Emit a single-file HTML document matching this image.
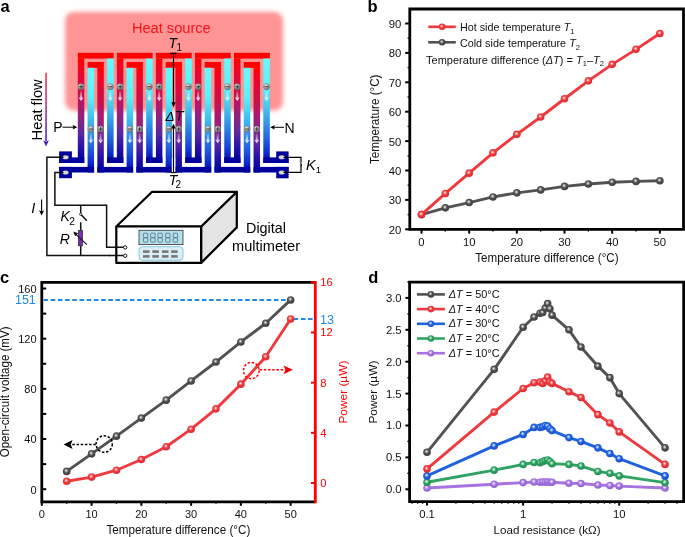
<!DOCTYPE html>
<html><head><meta charset="utf-8"><style>
html,body{margin:0;padding:0;background:#fff;overflow:hidden;}
svg{display:block;will-change:transform;}
text{font-family:"Liberation Sans", sans-serif;}
</style></head><body>
<svg width="685" height="537" viewBox="0 0 685 537">

<defs>
 <linearGradient id="gPo" gradientUnits="userSpaceOnUse" x1="0" y1="53" x2="0" y2="163"><stop offset="0" stop-color="#ff0000"/><stop offset="0.045" stop-color="#ff0000"/><stop offset="0.109" stop-color="#f60418"/><stop offset="0.245" stop-color="#dc0a3a"/><stop offset="0.355" stop-color="#c81048"/><stop offset="0.464" stop-color="#b0186a"/><stop offset="0.591" stop-color="#8c2480"/><stop offset="0.727" stop-color="#5c28a0"/><stop offset="0.845" stop-color="#2c14a8"/><stop offset="0.945" stop-color="#0c06a0"/><stop offset="1" stop-color="#00009c"/></linearGradient>
 <linearGradient id="gPi" gradientUnits="userSpaceOnUse" x1="0" y1="62" x2="0" y2="172.5"><stop offset="0" stop-color="#ff0000"/><stop offset="0.045" stop-color="#ff0000"/><stop offset="0.109" stop-color="#f60418"/><stop offset="0.245" stop-color="#dc0a3a"/><stop offset="0.355" stop-color="#c81048"/><stop offset="0.464" stop-color="#b0186a"/><stop offset="0.591" stop-color="#8c2480"/><stop offset="0.727" stop-color="#5c28a0"/><stop offset="0.845" stop-color="#2c14a8"/><stop offset="0.945" stop-color="#0c06a0"/><stop offset="1" stop-color="#00009c"/></linearGradient>
 <linearGradient id="gNo" gradientUnits="userSpaceOnUse" x1="0" y1="53" x2="0" y2="163"><stop offset="0" stop-color="#66ffff"/><stop offset="0.32" stop-color="#5af0fa"/><stop offset="0.5" stop-color="#44c4ee"/><stop offset="0.64" stop-color="#3494e6"/><stop offset="0.78" stop-color="#2262de"/><stop offset="0.9" stop-color="#0e30d0"/><stop offset="1" stop-color="#0000a8"/></linearGradient>
 <linearGradient id="gNi" gradientUnits="userSpaceOnUse" x1="0" y1="62" x2="0" y2="172.5"><stop offset="0" stop-color="#66ffff"/><stop offset="0.32" stop-color="#5af0fa"/><stop offset="0.5" stop-color="#44c4ee"/><stop offset="0.64" stop-color="#3494e6"/><stop offset="0.78" stop-color="#2262de"/><stop offset="0.9" stop-color="#0e30d0"/><stop offset="1" stop-color="#0000a8"/></linearGradient>
 <filter id="blur2" x="-10%" y="-10%" width="120%" height="120%"><feGaussianBlur stdDeviation="2"/></filter>
 
 
 <linearGradient id="gFlow" x1="0" y1="0" x2="0" y2="1">
  <stop offset="0" stop-color="#f02848"/>
  <stop offset="0.5" stop-color="#a02890"/>
  <stop offset="1" stop-color="#4018b8"/>
 </linearGradient>
 <linearGradient id="gArrow" x1="0" y1="0" x2="0" y2="1">
  <stop offset="0" stop-color="#ffffff" stop-opacity="0.15"/>
  <stop offset="1" stop-color="#ffffff" stop-opacity="0.95"/>
 </linearGradient>
 <radialGradient id="gPM" cx="0.4" cy="0.35" r="0.65">
  <stop offset="0" stop-color="#f4f4f4"/>
  <stop offset="0.55" stop-color="#a8a8a8"/>
  <stop offset="1" stop-color="#6a6a6a"/>
 </radialGradient>
<radialGradient id="m_grey" cx="0.44" cy="0.4" r="0.62"><stop offset="0" stop-color="#fff6f6"/><stop offset="0.16" stop-color="#b8b8b8"/><stop offset="0.46" stop-color="#525252"/><stop offset="1" stop-color="#3a3a3a"/></radialGradient><radialGradient id="m_red" cx="0.44" cy="0.4" r="0.62"><stop offset="0" stop-color="#fff6f6"/><stop offset="0.16" stop-color="#ffa8a8"/><stop offset="0.46" stop-color="#ee3a3f"/><stop offset="1" stop-color="#d82a30"/></radialGradient><radialGradient id="m_blue" cx="0.44" cy="0.4" r="0.62"><stop offset="0" stop-color="#fff6f6"/><stop offset="0.16" stop-color="#a8c4ff"/><stop offset="0.46" stop-color="#1f62e0"/><stop offset="1" stop-color="#1850c8"/></radialGradient><radialGradient id="m_green" cx="0.44" cy="0.4" r="0.62"><stop offset="0" stop-color="#fff6f6"/><stop offset="0.16" stop-color="#a8e0c0"/><stop offset="0.46" stop-color="#2fa462"/><stop offset="1" stop-color="#228a50"/></radialGradient><radialGradient id="m_purple" cx="0.44" cy="0.4" r="0.62"><stop offset="0" stop-color="#fff6f6"/><stop offset="0.16" stop-color="#dcc8ff"/><stop offset="0.46" stop-color="#a673e0"/><stop offset="1" stop-color="#9060d0"/></radialGradient></defs>

<rect width="685" height="537" fill="#fff"/>
<rect x="65" y="11.7" width="218" height="99" rx="9" fill="#ff9494" filter="url(#blur2)"/>
<text x="131.9" y="32.8" font-size="14" fill="#f5121a" textLength="78.8" lengthAdjust="spacingAndGlyphs">Heat source</text>
<rect x="77.8" y="52.8" width="35.8" height="5.8" fill="#ff0000"/>
<rect x="87.57" y="62" width="16.26" height="5.9" fill="#ff0000"/>
<rect x="77.8" y="58.5" width="6.5" height="104.5" fill="url(#gPo)"/>
<rect x="107.1" y="58.5" width="6.5" height="104.5" fill="url(#gNo)"/>
<rect x="87.57" y="67.8" width="6.5" height="104.7" fill="url(#gNi)"/>
<rect x="97.33" y="67.8" width="6.5" height="104.7" fill="url(#gPi)"/>
<rect x="116.85" y="52.8" width="35.8" height="5.8" fill="#ff0000"/>
<rect x="126.62" y="62" width="16.26" height="5.9" fill="#ff0000"/>
<rect x="116.85" y="58.5" width="6.5" height="104.5" fill="url(#gPo)"/>
<rect x="146.15" y="58.5" width="6.5" height="104.5" fill="url(#gNo)"/>
<rect x="126.62" y="67.8" width="6.5" height="104.7" fill="url(#gNi)"/>
<rect x="136.38" y="67.8" width="6.5" height="104.7" fill="url(#gPi)"/>
<rect x="155.9" y="52.8" width="35.8" height="5.8" fill="#ff0000"/>
<rect x="165.67" y="62" width="16.26" height="5.9" fill="#ff0000"/>
<rect x="155.9" y="58.5" width="6.5" height="104.5" fill="url(#gPo)"/>
<rect x="185.2" y="58.5" width="6.5" height="104.5" fill="url(#gNo)"/>
<rect x="165.67" y="67.8" width="6.5" height="104.7" fill="url(#gNi)"/>
<rect x="175.43" y="67.8" width="6.5" height="104.7" fill="url(#gPi)"/>
<rect x="194.95" y="52.8" width="35.8" height="5.8" fill="#ff0000"/>
<rect x="204.72" y="62" width="16.26" height="5.9" fill="#ff0000"/>
<rect x="194.95" y="58.5" width="6.5" height="104.5" fill="url(#gPo)"/>
<rect x="224.25" y="58.5" width="6.5" height="104.5" fill="url(#gNo)"/>
<rect x="204.72" y="67.8" width="6.5" height="104.7" fill="url(#gNi)"/>
<rect x="214.48" y="67.8" width="6.5" height="104.7" fill="url(#gPi)"/>
<rect x="234" y="52.8" width="35.8" height="5.8" fill="#ff0000"/>
<rect x="243.77" y="62" width="16.26" height="5.9" fill="#ff0000"/>
<rect x="234" y="58.5" width="6.5" height="104.5" fill="url(#gPo)"/>
<rect x="263.3" y="58.5" width="6.5" height="104.5" fill="url(#gNo)"/>
<rect x="243.77" y="67.8" width="6.5" height="104.7" fill="url(#gNi)"/>
<rect x="253.53" y="67.8" width="6.5" height="104.7" fill="url(#gPi)"/>
<rect x="107.1" y="157.4" width="16.25" height="5.6" fill="#00009c"/>
<rect x="97.33" y="166.9" width="35.79" height="5.6" fill="#00009c"/>
<rect x="146.15" y="157.4" width="16.25" height="5.6" fill="#00009c"/>
<rect x="136.38" y="166.9" width="35.79" height="5.6" fill="#00009c"/>
<rect x="185.2" y="157.4" width="16.25" height="5.6" fill="#00009c"/>
<rect x="175.43" y="166.9" width="35.79" height="5.6" fill="#00009c"/>
<rect x="224.25" y="157.4" width="16.25" height="5.6" fill="#00009c"/>
<rect x="214.48" y="166.9" width="35.79" height="5.6" fill="#00009c"/>
<rect x="59.1" y="151.4" width="12.8" height="11.6" fill="#00009c"/>
<rect x="59.1" y="157.4" width="25.2" height="5.6" fill="#00009c"/>
<rect x="59.1" y="166.9" width="12.8" height="11.3" fill="#00009c"/>
<rect x="59.1" y="166.9" width="34.97" height="5.6" fill="#00009c"/>
<rect x="276.2" y="151.4" width="12.4" height="11.6" fill="#00009c"/>
<rect x="263.3" y="157.4" width="25.3" height="5.6" fill="#00009c"/>
<rect x="276.2" y="166.9" width="12.4" height="11.4" fill="#00009c"/>
<rect x="253.53" y="166.9" width="35.07" height="5.6" fill="#00009c"/>
<ellipse cx="65.5" cy="157.3" rx="3.1" ry="2" fill="#d8d8d0"/>
<ellipse cx="65.5" cy="172.4" rx="3.1" ry="2" fill="#d8d8d0"/>
<ellipse cx="281.8" cy="157.3" rx="3.1" ry="2" fill="#d8d8d0"/>
<ellipse cx="281.8" cy="172.4" rx="3.1" ry="2" fill="#d8d8d0"/>
<circle cx="81.05" cy="86.7" r="3.1" fill="url(#gPM)" stroke="#777" stroke-width="0.4"/>
<line x1="79.05" y1="86.7" x2="83.05" y2="86.7" stroke="#222" stroke-width="0.85"/>
<line x1="81.05" y1="84.7" x2="81.05" y2="88.7" stroke="#222" stroke-width="0.85"/>
<path d="M80.05 91.2 h2 v6.2 h1.5 l-2.5 3.6 l-2.5 -3.6 h1.5 z" fill="url(#gArrow)"/>
<circle cx="110.35" cy="86.7" r="3.1" fill="url(#gPM)" stroke="#777" stroke-width="0.4"/>
<line x1="108.35" y1="86.7" x2="112.35" y2="86.7" stroke="#222" stroke-width="0.85"/>
<path d="M109.35 91.2 h2 v6.2 h1.5 l-2.5 3.6 l-2.5 -3.6 h1.5 z" fill="url(#gArrow)"/>
<circle cx="90.82" cy="129" r="3.1" fill="url(#gPM)" stroke="#777" stroke-width="0.4"/>
<line x1="88.82" y1="129" x2="92.82" y2="129" stroke="#222" stroke-width="0.85"/>
<path d="M89.82 133.5 h2 v6.2 h1.5 l-2.5 3.6 l-2.5 -3.6 h1.5 z" fill="url(#gArrow)"/>
<circle cx="100.58" cy="129" r="3.1" fill="url(#gPM)" stroke="#777" stroke-width="0.4"/>
<line x1="98.58" y1="129" x2="102.58" y2="129" stroke="#222" stroke-width="0.85"/>
<line x1="100.58" y1="127" x2="100.58" y2="131" stroke="#222" stroke-width="0.85"/>
<path d="M99.58 133.5 h2 v6.2 h1.5 l-2.5 3.6 l-2.5 -3.6 h1.5 z" fill="url(#gArrow)"/>
<circle cx="120.1" cy="86.7" r="3.1" fill="url(#gPM)" stroke="#777" stroke-width="0.4"/>
<line x1="118.1" y1="86.7" x2="122.1" y2="86.7" stroke="#222" stroke-width="0.85"/>
<line x1="120.1" y1="84.7" x2="120.1" y2="88.7" stroke="#222" stroke-width="0.85"/>
<path d="M119.1 91.2 h2 v6.2 h1.5 l-2.5 3.6 l-2.5 -3.6 h1.5 z" fill="url(#gArrow)"/>
<circle cx="149.4" cy="86.7" r="3.1" fill="url(#gPM)" stroke="#777" stroke-width="0.4"/>
<line x1="147.4" y1="86.7" x2="151.4" y2="86.7" stroke="#222" stroke-width="0.85"/>
<path d="M148.4 91.2 h2 v6.2 h1.5 l-2.5 3.6 l-2.5 -3.6 h1.5 z" fill="url(#gArrow)"/>
<circle cx="129.87" cy="129" r="3.1" fill="url(#gPM)" stroke="#777" stroke-width="0.4"/>
<line x1="127.87" y1="129" x2="131.87" y2="129" stroke="#222" stroke-width="0.85"/>
<path d="M128.87 133.5 h2 v6.2 h1.5 l-2.5 3.6 l-2.5 -3.6 h1.5 z" fill="url(#gArrow)"/>
<circle cx="139.63" cy="129" r="3.1" fill="url(#gPM)" stroke="#777" stroke-width="0.4"/>
<line x1="137.63" y1="129" x2="141.63" y2="129" stroke="#222" stroke-width="0.85"/>
<line x1="139.63" y1="127" x2="139.63" y2="131" stroke="#222" stroke-width="0.85"/>
<path d="M138.63 133.5 h2 v6.2 h1.5 l-2.5 3.6 l-2.5 -3.6 h1.5 z" fill="url(#gArrow)"/>
<circle cx="159.15" cy="86.7" r="3.1" fill="url(#gPM)" stroke="#777" stroke-width="0.4"/>
<line x1="157.15" y1="86.7" x2="161.15" y2="86.7" stroke="#222" stroke-width="0.85"/>
<line x1="159.15" y1="84.7" x2="159.15" y2="88.7" stroke="#222" stroke-width="0.85"/>
<path d="M158.15 91.2 h2 v6.2 h1.5 l-2.5 3.6 l-2.5 -3.6 h1.5 z" fill="url(#gArrow)"/>
<circle cx="188.45" cy="86.7" r="3.1" fill="url(#gPM)" stroke="#777" stroke-width="0.4"/>
<line x1="186.45" y1="86.7" x2="190.45" y2="86.7" stroke="#222" stroke-width="0.85"/>
<path d="M187.45 91.2 h2 v6.2 h1.5 l-2.5 3.6 l-2.5 -3.6 h1.5 z" fill="url(#gArrow)"/>
<circle cx="168.92" cy="129" r="3.1" fill="url(#gPM)" stroke="#777" stroke-width="0.4"/>
<line x1="166.92" y1="129" x2="170.92" y2="129" stroke="#222" stroke-width="0.85"/>
<path d="M167.92 133.5 h2 v6.2 h1.5 l-2.5 3.6 l-2.5 -3.6 h1.5 z" fill="url(#gArrow)"/>
<circle cx="178.68" cy="129" r="3.1" fill="url(#gPM)" stroke="#777" stroke-width="0.4"/>
<line x1="176.68" y1="129" x2="180.68" y2="129" stroke="#222" stroke-width="0.85"/>
<line x1="178.68" y1="127" x2="178.68" y2="131" stroke="#222" stroke-width="0.85"/>
<path d="M177.68 133.5 h2 v6.2 h1.5 l-2.5 3.6 l-2.5 -3.6 h1.5 z" fill="url(#gArrow)"/>
<circle cx="198.2" cy="86.7" r="3.1" fill="url(#gPM)" stroke="#777" stroke-width="0.4"/>
<line x1="196.2" y1="86.7" x2="200.2" y2="86.7" stroke="#222" stroke-width="0.85"/>
<line x1="198.2" y1="84.7" x2="198.2" y2="88.7" stroke="#222" stroke-width="0.85"/>
<path d="M197.2 91.2 h2 v6.2 h1.5 l-2.5 3.6 l-2.5 -3.6 h1.5 z" fill="url(#gArrow)"/>
<circle cx="227.5" cy="86.7" r="3.1" fill="url(#gPM)" stroke="#777" stroke-width="0.4"/>
<line x1="225.5" y1="86.7" x2="229.5" y2="86.7" stroke="#222" stroke-width="0.85"/>
<path d="M226.5 91.2 h2 v6.2 h1.5 l-2.5 3.6 l-2.5 -3.6 h1.5 z" fill="url(#gArrow)"/>
<circle cx="207.97" cy="129" r="3.1" fill="url(#gPM)" stroke="#777" stroke-width="0.4"/>
<line x1="205.97" y1="129" x2="209.97" y2="129" stroke="#222" stroke-width="0.85"/>
<path d="M206.97 133.5 h2 v6.2 h1.5 l-2.5 3.6 l-2.5 -3.6 h1.5 z" fill="url(#gArrow)"/>
<circle cx="217.73" cy="129" r="3.1" fill="url(#gPM)" stroke="#777" stroke-width="0.4"/>
<line x1="215.73" y1="129" x2="219.73" y2="129" stroke="#222" stroke-width="0.85"/>
<line x1="217.73" y1="127" x2="217.73" y2="131" stroke="#222" stroke-width="0.85"/>
<path d="M216.73 133.5 h2 v6.2 h1.5 l-2.5 3.6 l-2.5 -3.6 h1.5 z" fill="url(#gArrow)"/>
<circle cx="237.25" cy="86.7" r="3.1" fill="url(#gPM)" stroke="#777" stroke-width="0.4"/>
<line x1="235.25" y1="86.7" x2="239.25" y2="86.7" stroke="#222" stroke-width="0.85"/>
<line x1="237.25" y1="84.7" x2="237.25" y2="88.7" stroke="#222" stroke-width="0.85"/>
<path d="M236.25 91.2 h2 v6.2 h1.5 l-2.5 3.6 l-2.5 -3.6 h1.5 z" fill="url(#gArrow)"/>
<circle cx="266.55" cy="86.7" r="3.1" fill="url(#gPM)" stroke="#777" stroke-width="0.4"/>
<line x1="264.55" y1="86.7" x2="268.55" y2="86.7" stroke="#222" stroke-width="0.85"/>
<path d="M265.55 91.2 h2 v6.2 h1.5 l-2.5 3.6 l-2.5 -3.6 h1.5 z" fill="url(#gArrow)"/>
<circle cx="247.02" cy="129" r="3.1" fill="url(#gPM)" stroke="#777" stroke-width="0.4"/>
<line x1="245.02" y1="129" x2="249.02" y2="129" stroke="#222" stroke-width="0.85"/>
<path d="M246.02 133.5 h2 v6.2 h1.5 l-2.5 3.6 l-2.5 -3.6 h1.5 z" fill="url(#gArrow)"/>
<circle cx="256.78" cy="129" r="3.1" fill="url(#gPM)" stroke="#777" stroke-width="0.4"/>
<line x1="254.78" y1="129" x2="258.78" y2="129" stroke="#222" stroke-width="0.85"/>
<line x1="256.78" y1="127" x2="256.78" y2="131" stroke="#222" stroke-width="0.85"/>
<path d="M255.78 133.5 h2 v6.2 h1.5 l-2.5 3.6 l-2.5 -3.6 h1.5 z" fill="url(#gArrow)"/>
<line x1="173.5" y1="158" x2="173.5" y2="172.5" stroke="#fff" stroke-width="3.4"/>
<line x1="173.5" y1="53" x2="173.5" y2="104" stroke="#000" stroke-width="1.2"/>
<path d="M171.4 102.2 L173.5 107.2 L175.6 102.2 Z" fill="#000"/>
<line x1="173.5" y1="127" x2="173.5" y2="172.6" stroke="#000" stroke-width="1.2"/>
<path d="M171.4 128.5 L173.5 123.5 L175.6 128.5 Z" fill="#000"/>
<line x1="169.8" y1="53.3" x2="177.3" y2="53.3" stroke="#000" stroke-width="1.2"/>
<line x1="170.9" y1="172.6" x2="176.5" y2="172.6" stroke="#000" stroke-width="1.1"/>
<text x="168.6" y="48.2" font-size="14" font-style="italic" fill="#000">T</text>
<text x="176.6" y="51.2" font-size="10" fill="#000">1</text>
<text x="165.6" y="120.5" font-size="13.5" font-style="italic" fill="#000">&#916;</text>
<text x="175" y="120.5" font-size="14" font-style="italic" fill="#000">T</text>
<text x="168.8" y="184.6" font-size="14" font-style="italic" fill="#000">T</text>
<text x="175.6" y="187.7" font-size="10" fill="#000">2</text>
<rect x="45.3" y="72.7" width="1.5" height="68.5" fill="url(#gFlow)"/>
<path d="M43.2 140.2 L46.05 146.6 L48.9 140.2 L46.05 141.8 Z" fill="#4018b8"/>
<text transform="translate(42.4 140.4) rotate(-90)" font-size="14.5" fill="#000" textLength="61" lengthAdjust="spacingAndGlyphs">Heat flow</text>
<text x="53.3" y="131.7" font-size="14" fill="#000">P</text>
<line x1="62.5" y1="127.2" x2="75" y2="127.2" stroke="#000" stroke-width="1"/>
<path d="M72.5 124.8 L77.3 127.2 L72.5 129.6 L73.6 127.2 Z" fill="#000"/>
<text x="284.6" y="132.7" font-size="14" fill="#000">N</text>
<line x1="272.5" y1="127.3" x2="284" y2="127.3" stroke="#000" stroke-width="1"/>
<path d="M275 124.9 L270.2 127.3 L275 129.7 L273.9 127.3 Z" fill="#000"/>
<path d="M283.5 157.3 H301 V160.9" fill="none" stroke="#000" stroke-width="1.2"/>
<path d="M283.5 172.4 H301 V164" fill="none" stroke="#000" stroke-width="1.2"/>
<circle cx="300.9" cy="161.7" r="0.85" fill="#fff" stroke="#000" stroke-width="0.6"/>
<path d="M300.6 162.4 L301.7 166.2" stroke="#000" stroke-width="0.9"/>
<text x="306" y="170" font-size="14.5" font-style="italic" fill="#000">K</text>
<text x="315.8" y="173.2" font-size="9.6" fill="#000">1</text>
<path d="M63.5 157.3 H46.9 V255.6 H110" stroke="#111" stroke-width="1.5" fill="none"/>
<path d="M63.5 172.4 H54.9 V205.3 H106.6 V247.3 H110" stroke="#111" stroke-width="1.5" fill="none"/>
<path d="M80.7 205.3 V213.1" stroke="#111" stroke-width="1.5" fill="none"/>
<circle cx="80.7" cy="214.3" r="1.15" fill="#fff" stroke="#111" stroke-width="0.8"/>
<path d="M81.4 214.9 L86.8 220.7" stroke="#111" stroke-width="1.5" fill="none"/>
<path d="M80.7 222.3 V230.4 M80.7 245.8 V255.6" stroke="#111" stroke-width="1.5" fill="none"/>
<rect x="78.5" y="230.4" width="4" height="15.4" fill="#7b2fb5" stroke="#222" stroke-width="0.7"/>
<path d="M86.8 244.7 L75.2 233.6" stroke="#111" stroke-width="1.1"/>
<path d="M73.3 231.6 L78.2 233.2 L75.1 236.2 Z" fill="#111"/>
<text x="31.2" y="212.8" font-size="14.5" font-style="italic" fill="#000">I</text>
<line x1="41.6" y1="199.5" x2="41.6" y2="212" stroke="#000" stroke-width="1.1"/>
<path d="M39 210.3 L41.6 215.6 L44.2 210.3 L41.6 211.6 Z" fill="#000"/>
<text x="60.4" y="221.2" font-size="14" font-style="italic" fill="#000">K</text>
<text x="69.2" y="224.7" font-size="10.2" fill="#000">2</text>
<text x="59.8" y="243.5" font-size="14" font-style="italic" fill="#000">R</text>
<path d="M201.1 226.5 L236.8 191.8 L236.8 227.4 L201.1 262.9 Z" fill="#e4e4e4" stroke="#000" stroke-width="2.2" stroke-linejoin="round"/>
<path d="M116.3 226.5 L152.1 191.8 L236.8 191.8 L201.1 226.5 Z" fill="#fff" stroke="#000" stroke-width="2.2" stroke-linejoin="round"/>
<rect x="116.3" y="226.5" width="84.8" height="36.4" fill="#fff" stroke="#000" stroke-width="2.2" stroke-linejoin="round"/>
<rect x="139" y="230.3" width="44" height="14.3" fill="#b4e0ee" stroke="#333" stroke-width="0.8"/>
<rect x="143.4" y="233.2" width="4.4" height="4.5" rx="0.8" fill="none" stroke="#4f6f76" stroke-width="0.8"/>
<rect x="143.4" y="237.7" width="4.4" height="4.5" rx="0.8" fill="none" stroke="#4f6f76" stroke-width="0.8"/>
<rect x="150.7" y="233.2" width="4.4" height="4.5" rx="0.8" fill="none" stroke="#4f6f76" stroke-width="0.8"/>
<rect x="150.7" y="237.7" width="4.4" height="4.5" rx="0.8" fill="none" stroke="#4f6f76" stroke-width="0.8"/>
<rect x="157.9" y="233.2" width="4.4" height="4.5" rx="0.8" fill="none" stroke="#4f6f76" stroke-width="0.8"/>
<rect x="157.9" y="237.7" width="4.4" height="4.5" rx="0.8" fill="none" stroke="#4f6f76" stroke-width="0.8"/>
<rect x="165.6" y="233.2" width="4.4" height="4.5" rx="0.8" fill="none" stroke="#4f6f76" stroke-width="0.8"/>
<rect x="165.6" y="237.7" width="4.4" height="4.5" rx="0.8" fill="none" stroke="#4f6f76" stroke-width="0.8"/>
<rect x="173.2" y="233.2" width="4.4" height="4.5" rx="0.8" fill="none" stroke="#4f6f76" stroke-width="0.8"/>
<rect x="173.2" y="237.7" width="4.4" height="4.5" rx="0.8" fill="none" stroke="#4f6f76" stroke-width="0.8"/>
<rect x="139" y="246.7" width="44" height="13.6" rx="3.2" fill="#dceef5" stroke="#6cbcd8" stroke-width="0.8"/>
<rect x="143" y="250.3" width="6.6" height="2.6" fill="#777"/>
<rect x="152.3" y="250.3" width="6.6" height="2.6" fill="#777"/>
<rect x="161.9" y="250.3" width="6.6" height="2.6" fill="#777"/>
<rect x="171.1" y="250.3" width="6.6" height="2.6" fill="#777"/>
<rect x="143" y="255.1" width="6.6" height="2.6" fill="#777"/>
<rect x="152.3" y="255.1" width="6.6" height="2.6" fill="#777"/>
<rect x="161.9" y="255.1" width="6.6" height="2.6" fill="#777"/>
<rect x="171.1" y="255.1" width="6.6" height="2.6" fill="#777"/>
<path d="M109 255.6 H123.6 M109 247.3 H123.6" stroke="#111" stroke-width="1.5" fill="none"/>
<circle cx="125.2" cy="247.4" r="1.7" fill="#fff" stroke="#111" stroke-width="1"/>
<circle cx="125.2" cy="255.8" r="1.7" fill="#fff" stroke="#111" stroke-width="1"/>
<text x="246" y="233" font-size="14.3" fill="#000" textLength="40" lengthAdjust="spacingAndGlyphs">Digital</text>
<text x="232" y="250.5" font-size="14.3" fill="#000" textLength="68" lengthAdjust="spacingAndGlyphs">multimeter</text>
<text x="0.4" y="11.6" font-size="16.5" font-weight="bold" fill="#000">a</text>
<text x="367.4" y="11.6" font-size="16.5" font-weight="bold" fill="#000">b</text>
<path d="M409.8 9 H683.5 V229.3 H409.8 Z" fill="none" stroke="#000" stroke-width="2.8"/>
<line x1="405.2" y1="229.3" x2="410" y2="229.3" stroke="#000" stroke-width="2"/>
<text x="401.4" y="233.8" font-size="11.3" text-anchor="end" fill="#111">20</text>
<line x1="405.2" y1="199.9" x2="410" y2="199.9" stroke="#000" stroke-width="2"/>
<text x="401.4" y="204.4" font-size="11.3" text-anchor="end" fill="#111">30</text>
<line x1="405.2" y1="170.5" x2="410" y2="170.5" stroke="#000" stroke-width="2"/>
<text x="401.4" y="175" font-size="11.3" text-anchor="end" fill="#111">40</text>
<line x1="405.2" y1="141.1" x2="410" y2="141.1" stroke="#000" stroke-width="2"/>
<text x="401.4" y="145.6" font-size="11.3" text-anchor="end" fill="#111">50</text>
<line x1="405.2" y1="111.7" x2="410" y2="111.7" stroke="#000" stroke-width="2"/>
<text x="401.4" y="116.2" font-size="11.3" text-anchor="end" fill="#111">60</text>
<line x1="405.2" y1="82.3" x2="410" y2="82.3" stroke="#000" stroke-width="2"/>
<text x="401.4" y="86.8" font-size="11.3" text-anchor="end" fill="#111">70</text>
<line x1="405.2" y1="52.9" x2="410" y2="52.9" stroke="#000" stroke-width="2"/>
<text x="401.4" y="57.4" font-size="11.3" text-anchor="end" fill="#111">80</text>
<line x1="405.2" y1="23.5" x2="410" y2="23.5" stroke="#000" stroke-width="2"/>
<text x="401.4" y="28" font-size="11.3" text-anchor="end" fill="#111">90</text>
<line x1="407.6" y1="214.6" x2="410" y2="214.6" stroke="#000" stroke-width="1.4"/>
<line x1="407.6" y1="185.2" x2="410" y2="185.2" stroke="#000" stroke-width="1.4"/>
<line x1="407.6" y1="155.8" x2="410" y2="155.8" stroke="#000" stroke-width="1.4"/>
<line x1="407.6" y1="126.4" x2="410" y2="126.4" stroke="#000" stroke-width="1.4"/>
<line x1="407.6" y1="97" x2="410" y2="97" stroke="#000" stroke-width="1.4"/>
<line x1="407.6" y1="67.6" x2="410" y2="67.6" stroke="#000" stroke-width="1.4"/>
<line x1="407.6" y1="38.2" x2="410" y2="38.2" stroke="#000" stroke-width="1.4"/>
<line x1="421.5" y1="229.3" x2="421.5" y2="233.6" stroke="#000" stroke-width="2"/>
<text x="421.5" y="246" font-size="11.3" text-anchor="middle" fill="#111">0</text>
<line x1="469.17" y1="229.3" x2="469.17" y2="233.6" stroke="#000" stroke-width="2"/>
<text x="469.17" y="246" font-size="11.3" text-anchor="middle" fill="#111">10</text>
<line x1="516.84" y1="229.3" x2="516.84" y2="233.6" stroke="#000" stroke-width="2"/>
<text x="516.84" y="246" font-size="11.3" text-anchor="middle" fill="#111">20</text>
<line x1="564.51" y1="229.3" x2="564.51" y2="233.6" stroke="#000" stroke-width="2"/>
<text x="564.51" y="246" font-size="11.3" text-anchor="middle" fill="#111">30</text>
<line x1="612.18" y1="229.3" x2="612.18" y2="233.6" stroke="#000" stroke-width="2"/>
<text x="612.18" y="246" font-size="11.3" text-anchor="middle" fill="#111">40</text>
<line x1="659.85" y1="229.3" x2="659.85" y2="233.6" stroke="#000" stroke-width="2"/>
<text x="659.85" y="246" font-size="11.3" text-anchor="middle" fill="#111">50</text>
<line x1="445.33" y1="229.3" x2="445.33" y2="231.6" stroke="#000" stroke-width="1.4"/>
<line x1="493" y1="229.3" x2="493" y2="231.6" stroke="#000" stroke-width="1.4"/>
<line x1="540.67" y1="229.3" x2="540.67" y2="231.6" stroke="#000" stroke-width="1.4"/>
<line x1="588.35" y1="229.3" x2="588.35" y2="231.6" stroke="#000" stroke-width="1.4"/>
<line x1="636.01" y1="229.3" x2="636.01" y2="231.6" stroke="#000" stroke-width="1.4"/>
<text transform="translate(379.4 164) rotate(-90)" font-size="12" fill="#111" textLength="89.5" lengthAdjust="spacingAndGlyphs">Temperature (°C)</text>
<text x="475.2" y="262.4" font-size="12" fill="#111" textLength="143.4" lengthAdjust="spacingAndGlyphs">Temperature difference (°C)</text>
<path d="M421.5 214.6 L445.33 207.84 L469.17 202.55 L493 196.96 L516.84 192.84 L540.67 189.9 L564.51 186.38 L588.35 184.02 L612.18 182.26 L636.01 181.38 L659.85 180.79" fill="none" stroke="#525252" stroke-width="2.9" stroke-linejoin="round"/>
<circle cx="421.5" cy="214.6" r="3.8" fill="url(#m_grey)"/>
<circle cx="445.33" cy="207.84" r="3.8" fill="url(#m_grey)"/>
<circle cx="469.17" cy="202.55" r="3.8" fill="url(#m_grey)"/>
<circle cx="493" cy="196.96" r="3.8" fill="url(#m_grey)"/>
<circle cx="516.84" cy="192.84" r="3.8" fill="url(#m_grey)"/>
<circle cx="540.67" cy="189.9" r="3.8" fill="url(#m_grey)"/>
<circle cx="564.51" cy="186.38" r="3.8" fill="url(#m_grey)"/>
<circle cx="588.35" cy="184.02" r="3.8" fill="url(#m_grey)"/>
<circle cx="612.18" cy="182.26" r="3.8" fill="url(#m_grey)"/>
<circle cx="636.01" cy="181.38" r="3.8" fill="url(#m_grey)"/>
<circle cx="659.85" cy="180.79" r="3.8" fill="url(#m_grey)"/>
<path d="M421.5 214.6 L445.33 193.43 L469.17 173.15 L493 152.86 L516.84 134.34 L540.67 116.99 L564.51 98.76 L588.35 80.83 L612.18 64.37 L636.01 49.37 L659.85 33.5" fill="none" stroke="#ee3a3f" stroke-width="2.9" stroke-linejoin="round"/>
<circle cx="421.5" cy="214.6" r="3.8" fill="url(#m_red)"/>
<circle cx="445.33" cy="193.43" r="3.8" fill="url(#m_red)"/>
<circle cx="469.17" cy="173.15" r="3.8" fill="url(#m_red)"/>
<circle cx="493" cy="152.86" r="3.8" fill="url(#m_red)"/>
<circle cx="516.84" cy="134.34" r="3.8" fill="url(#m_red)"/>
<circle cx="540.67" cy="116.99" r="3.8" fill="url(#m_red)"/>
<circle cx="564.51" cy="98.76" r="3.8" fill="url(#m_red)"/>
<circle cx="588.35" cy="80.83" r="3.8" fill="url(#m_red)"/>
<circle cx="612.18" cy="64.37" r="3.8" fill="url(#m_red)"/>
<circle cx="636.01" cy="49.37" r="3.8" fill="url(#m_red)"/>
<circle cx="659.85" cy="33.5" r="3.8" fill="url(#m_red)"/>
<line x1="428.2" y1="26.8" x2="455.8" y2="26.8" stroke="#ee3a3f" stroke-width="2.6"/>
<circle cx="442.1" cy="26.8" r="3.3" fill="url(#m_red)"/>
<line x1="428.2" y1="42.3" x2="455.8" y2="42.3" stroke="#525252" stroke-width="2.6"/>
<circle cx="442.1" cy="42.3" r="3.3" fill="url(#m_grey)"/>
<text x="459.9" y="31" font-size="10.8" fill="#111"><tspan>Hot side temperature </tspan><tspan font-style="italic">T</tspan><tspan font-size="7.5" dy="2.8">1</tspan></text>
<text x="459.9" y="46.8" font-size="10.8" fill="#111"><tspan>Cold side temperature </tspan><tspan font-style="italic">T</tspan><tspan font-size="7.5" dy="2.8">2</tspan></text>
<text x="426.1" y="63.5" font-size="11" fill="#111"><tspan>Temperature difference (</tspan><tspan font-style="italic">&#916;T</tspan><tspan>) = </tspan><tspan font-style="italic">T</tspan><tspan font-size="7.5" dy="2.8">1</tspan><tspan dy="-2.8">&#8211;</tspan><tspan font-style="italic">T</tspan><tspan font-size="7.5" dy="2.8">2</tspan></text>
<text x="0" y="282.6" font-size="16.5" font-weight="bold" fill="#000">c</text>
<path d="M315.3 282.3 H41.8 V501.8 H315.3" fill="none" stroke="#000" stroke-width="2.8"/>
<line x1="315.3" y1="281" x2="315.3" y2="503.2" stroke="#ff0000" stroke-width="2.8"/>
<line x1="41.8" y1="489.2" x2="46.2" y2="489.2" stroke="#000" stroke-width="2"/>
<text x="36.6" y="493.6" font-size="11" text-anchor="end" fill="#111">0</text>
<line x1="41.8" y1="439.03" x2="46.2" y2="439.03" stroke="#000" stroke-width="2"/>
<text x="36.6" y="443.43" font-size="11" text-anchor="end" fill="#111">40</text>
<line x1="41.8" y1="388.86" x2="46.2" y2="388.86" stroke="#000" stroke-width="2"/>
<text x="36.6" y="393.26" font-size="11" text-anchor="end" fill="#111">80</text>
<line x1="41.8" y1="338.68" x2="46.2" y2="338.68" stroke="#000" stroke-width="2"/>
<text x="36.6" y="343.08" font-size="11" text-anchor="end" fill="#111">120</text>
<line x1="41.8" y1="288.51" x2="46.2" y2="288.51" stroke="#000" stroke-width="2"/>
<text x="36.6" y="292.91" font-size="11" text-anchor="end" fill="#111">160</text>
<line x1="41.8" y1="464.11" x2="46.2" y2="464.11" stroke="#000" stroke-width="2"/>
<line x1="41.8" y1="413.94" x2="46.2" y2="413.94" stroke="#000" stroke-width="2"/>
<line x1="41.8" y1="363.77" x2="46.2" y2="363.77" stroke="#000" stroke-width="2"/>
<line x1="41.8" y1="313.6" x2="46.2" y2="313.6" stroke="#000" stroke-width="2"/>
<line x1="311" y1="483" x2="315.3" y2="483" stroke="#ff0000" stroke-width="2"/>
<text x="320.2" y="486.9" font-size="11.2" fill="#ff0000">0</text>
<line x1="311" y1="432.83" x2="315.3" y2="432.83" stroke="#ff0000" stroke-width="2"/>
<text x="320.2" y="436.73" font-size="11.2" fill="#ff0000">4</text>
<line x1="311" y1="382.66" x2="315.3" y2="382.66" stroke="#ff0000" stroke-width="2"/>
<text x="320.2" y="386.56" font-size="11.2" fill="#ff0000">8</text>
<line x1="311" y1="332.48" x2="315.3" y2="332.48" stroke="#ff0000" stroke-width="2"/>
<text x="320.2" y="336.38" font-size="11.2" fill="#ff0000">12</text>
<line x1="311" y1="282.31" x2="315.3" y2="282.31" stroke="#ff0000" stroke-width="2"/>
<text x="320.2" y="286.21" font-size="11.2" fill="#ff0000">16</text>
<line x1="41.8" y1="501.8" x2="41.8" y2="505.8" stroke="#000" stroke-width="2"/>
<text x="41.8" y="518.2" font-size="11" text-anchor="middle" fill="#111">0</text>
<line x1="91.57" y1="501.8" x2="91.57" y2="505.8" stroke="#000" stroke-width="2"/>
<text x="91.57" y="518.2" font-size="11" text-anchor="middle" fill="#111">10</text>
<line x1="141.34" y1="501.8" x2="141.34" y2="505.8" stroke="#000" stroke-width="2"/>
<text x="141.34" y="518.2" font-size="11" text-anchor="middle" fill="#111">20</text>
<line x1="191.11" y1="501.8" x2="191.11" y2="505.8" stroke="#000" stroke-width="2"/>
<text x="191.11" y="518.2" font-size="11" text-anchor="middle" fill="#111">30</text>
<line x1="240.88" y1="501.8" x2="240.88" y2="505.8" stroke="#000" stroke-width="2"/>
<text x="240.88" y="518.2" font-size="11" text-anchor="middle" fill="#111">40</text>
<line x1="290.65" y1="501.8" x2="290.65" y2="505.8" stroke="#000" stroke-width="2"/>
<text x="290.65" y="518.2" font-size="11" text-anchor="middle" fill="#111">50</text>
<line x1="66.69" y1="501.8" x2="66.69" y2="503.8" stroke="#000" stroke-width="1.4"/>
<line x1="116.45" y1="501.8" x2="116.45" y2="503.8" stroke="#000" stroke-width="1.4"/>
<line x1="166.23" y1="501.8" x2="166.23" y2="503.8" stroke="#000" stroke-width="1.4"/>
<line x1="216" y1="501.8" x2="216" y2="503.8" stroke="#000" stroke-width="1.4"/>
<line x1="265.76" y1="501.8" x2="265.76" y2="503.8" stroke="#000" stroke-width="1.4"/>
<text x="106.4" y="533.5" font-size="12" fill="#111" textLength="143.9" lengthAdjust="spacingAndGlyphs">Temperature difference (°C)</text>
<text transform="translate(8.8 391.9) rotate(-90)" font-size="12" fill="#111" text-anchor="middle" textLength="130.8" lengthAdjust="spacingAndGlyphs">Open-circuit voltage (mV)</text>
<text transform="translate(347 392.1) rotate(-90)" font-size="11.6" fill="#ff0000" text-anchor="middle" textLength="63" lengthAdjust="spacingAndGlyphs">Power (µW)</text>
<line x1="43.5" y1="299.93" x2="287.65" y2="299.93" stroke="#1e8ae6" stroke-width="2" stroke-dasharray="4.6 2.6"/>
<line x1="293.65" y1="318.94" x2="313.5" y2="318.94" stroke="#1e8ae6" stroke-width="2" stroke-dasharray="4.6 2.6"/>
<text x="35.8" y="304.2" font-size="12.5" text-anchor="end" fill="#1e8ae6">151</text>
<text x="320" y="324.2" font-size="12.5" fill="#1e8ae6">13</text>
<path d="M66.69 471.39 L91.57 453.83 L116.45 436.14 L141.34 418.08 L166.23 400.14 L191.11 380.95 L216 362.01 L240.88 341.95 L265.76 323.26 L290.65 299.93" fill="none" stroke="#525252" stroke-width="2.9" stroke-linejoin="round"/>
<circle cx="66.69" cy="471.39" r="3.8" fill="url(#m_grey)"/>
<circle cx="91.57" cy="453.83" r="3.8" fill="url(#m_grey)"/>
<circle cx="116.45" cy="436.14" r="3.8" fill="url(#m_grey)"/>
<circle cx="141.34" cy="418.08" r="3.8" fill="url(#m_grey)"/>
<circle cx="166.23" cy="400.14" r="3.8" fill="url(#m_grey)"/>
<circle cx="191.11" cy="380.95" r="3.8" fill="url(#m_grey)"/>
<circle cx="216" cy="362.01" r="3.8" fill="url(#m_grey)"/>
<circle cx="240.88" cy="341.95" r="3.8" fill="url(#m_grey)"/>
<circle cx="265.76" cy="323.26" r="3.8" fill="url(#m_grey)"/>
<circle cx="290.65" cy="299.93" r="3.8" fill="url(#m_grey)"/>
<path d="M66.69 481.24 L91.57 477.1 L116.45 470.21 L141.34 459.54 L166.23 446.75 L191.11 429.19 L216 408.87 L240.88 384.16 L265.76 356.82 L290.65 318.94" fill="none" stroke="#ee3a3f" stroke-width="2.9" stroke-linejoin="round"/>
<circle cx="66.69" cy="481.24" r="3.8" fill="url(#m_red)"/>
<circle cx="91.57" cy="477.1" r="3.8" fill="url(#m_red)"/>
<circle cx="116.45" cy="470.21" r="3.8" fill="url(#m_red)"/>
<circle cx="141.34" cy="459.54" r="3.8" fill="url(#m_red)"/>
<circle cx="166.23" cy="446.75" r="3.8" fill="url(#m_red)"/>
<circle cx="191.11" cy="429.19" r="3.8" fill="url(#m_red)"/>
<circle cx="216" cy="408.87" r="3.8" fill="url(#m_red)"/>
<circle cx="240.88" cy="384.16" r="3.8" fill="url(#m_red)"/>
<circle cx="265.76" cy="356.82" r="3.8" fill="url(#m_red)"/>
<circle cx="290.65" cy="318.94" r="3.8" fill="url(#m_red)"/>
<ellipse cx="104.2" cy="444" rx="8.1" ry="8.3" fill="none" stroke="#000" stroke-width="1.5" stroke-dasharray="2.5 1.7"/>
<line x1="95.8" y1="444.5" x2="71" y2="444.5" stroke="#000" stroke-width="1.5" stroke-dasharray="2.5 1.7"/>
<path d="M63.6 444.5 L72.6 440 L70.8 444.5 L72.6 449 Z" fill="#000"/>
<ellipse cx="251.3" cy="370.6" rx="7.8" ry="8.2" fill="none" stroke="#ff0000" stroke-width="1.5" stroke-dasharray="2.5 1.7"/>
<line x1="259.6" y1="369.8" x2="285" y2="369.8" stroke="#ff0000" stroke-width="1.5" stroke-dasharray="2.5 1.7"/>
<path d="M292.8 369.8 L283.6 365.4 L285.4 369.8 L283.6 374.2 Z" fill="#ff0000"/>
<text x="368.2" y="282.6" font-size="16.5" font-weight="bold" fill="#000">d</text>
<path d="M409.6 282.2 H683.7 V501.6 H409.6 Z" fill="none" stroke="#000" stroke-width="2.8"/>
<line x1="405.4" y1="489.3" x2="409.6" y2="489.3" stroke="#000" stroke-width="2"/>
<text x="401.6" y="493.2" font-size="11.3" text-anchor="end" fill="#111">0.0</text>
<line x1="407.4" y1="473.35" x2="409.6" y2="473.35" stroke="#000" stroke-width="1.4"/>
<line x1="405.4" y1="457.4" x2="409.6" y2="457.4" stroke="#000" stroke-width="2"/>
<text x="401.6" y="461.3" font-size="11.3" text-anchor="end" fill="#111">0.5</text>
<line x1="407.4" y1="441.45" x2="409.6" y2="441.45" stroke="#000" stroke-width="1.4"/>
<line x1="405.4" y1="425.5" x2="409.6" y2="425.5" stroke="#000" stroke-width="2"/>
<text x="401.6" y="429.4" font-size="11.3" text-anchor="end" fill="#111">1.0</text>
<line x1="407.4" y1="409.55" x2="409.6" y2="409.55" stroke="#000" stroke-width="1.4"/>
<line x1="405.4" y1="393.6" x2="409.6" y2="393.6" stroke="#000" stroke-width="2"/>
<text x="401.6" y="397.5" font-size="11.3" text-anchor="end" fill="#111">1.5</text>
<line x1="407.4" y1="377.65" x2="409.6" y2="377.65" stroke="#000" stroke-width="1.4"/>
<line x1="405.4" y1="361.7" x2="409.6" y2="361.7" stroke="#000" stroke-width="2"/>
<text x="401.6" y="365.6" font-size="11.3" text-anchor="end" fill="#111">2.0</text>
<line x1="407.4" y1="345.75" x2="409.6" y2="345.75" stroke="#000" stroke-width="1.4"/>
<line x1="405.4" y1="329.8" x2="409.6" y2="329.8" stroke="#000" stroke-width="2"/>
<text x="401.6" y="333.7" font-size="11.3" text-anchor="end" fill="#111">2.5</text>
<line x1="407.4" y1="313.85" x2="409.6" y2="313.85" stroke="#000" stroke-width="1.4"/>
<line x1="405.4" y1="297.9" x2="409.6" y2="297.9" stroke="#000" stroke-width="2"/>
<text x="401.6" y="301.8" font-size="11.3" text-anchor="end" fill="#111">3.0</text>
<line x1="407.4" y1="281.95" x2="409.6" y2="281.95" stroke="#000" stroke-width="1.4"/>
<line x1="427" y1="501.6" x2="427" y2="505.6" stroke="#000" stroke-width="2"/>
<text x="427" y="517.8" font-size="11.3" text-anchor="middle" fill="#111">0.1</text>
<line x1="523.1" y1="501.6" x2="523.1" y2="505.6" stroke="#000" stroke-width="2"/>
<text x="523.1" y="517.8" font-size="11.3" text-anchor="middle" fill="#111">1</text>
<line x1="619.2" y1="501.6" x2="619.2" y2="505.6" stroke="#000" stroke-width="2"/>
<text x="619.2" y="517.8" font-size="11.3" text-anchor="middle" fill="#111">10</text>
<line x1="412.11" y1="501.6" x2="412.11" y2="503.8" stroke="#000" stroke-width="1.3"/>
<line x1="417.69" y1="501.6" x2="417.69" y2="503.8" stroke="#000" stroke-width="1.3"/>
<line x1="422.6" y1="501.6" x2="422.6" y2="503.8" stroke="#000" stroke-width="1.3"/>
<line x1="455.93" y1="501.6" x2="455.93" y2="503.8" stroke="#000" stroke-width="1.3"/>
<line x1="472.85" y1="501.6" x2="472.85" y2="503.8" stroke="#000" stroke-width="1.3"/>
<line x1="484.86" y1="501.6" x2="484.86" y2="503.8" stroke="#000" stroke-width="1.3"/>
<line x1="494.17" y1="501.6" x2="494.17" y2="503.8" stroke="#000" stroke-width="1.3"/>
<line x1="501.78" y1="501.6" x2="501.78" y2="503.8" stroke="#000" stroke-width="1.3"/>
<line x1="508.21" y1="501.6" x2="508.21" y2="503.8" stroke="#000" stroke-width="1.3"/>
<line x1="513.79" y1="501.6" x2="513.79" y2="503.8" stroke="#000" stroke-width="1.3"/>
<line x1="518.7" y1="501.6" x2="518.7" y2="503.8" stroke="#000" stroke-width="1.3"/>
<line x1="552.03" y1="501.6" x2="552.03" y2="503.8" stroke="#000" stroke-width="1.3"/>
<line x1="568.95" y1="501.6" x2="568.95" y2="503.8" stroke="#000" stroke-width="1.3"/>
<line x1="580.96" y1="501.6" x2="580.96" y2="503.8" stroke="#000" stroke-width="1.3"/>
<line x1="590.27" y1="501.6" x2="590.27" y2="503.8" stroke="#000" stroke-width="1.3"/>
<line x1="597.88" y1="501.6" x2="597.88" y2="503.8" stroke="#000" stroke-width="1.3"/>
<line x1="604.31" y1="501.6" x2="604.31" y2="503.8" stroke="#000" stroke-width="1.3"/>
<line x1="609.89" y1="501.6" x2="609.89" y2="503.8" stroke="#000" stroke-width="1.3"/>
<line x1="614.8" y1="501.6" x2="614.8" y2="503.8" stroke="#000" stroke-width="1.3"/>
<line x1="648.13" y1="501.6" x2="648.13" y2="503.8" stroke="#000" stroke-width="1.3"/>
<line x1="665.05" y1="501.6" x2="665.05" y2="503.8" stroke="#000" stroke-width="1.3"/>
<line x1="677.06" y1="501.6" x2="677.06" y2="503.8" stroke="#000" stroke-width="1.3"/>
<text x="493.6" y="533.9" font-size="11.5" fill="#111" textLength="107" lengthAdjust="spacingAndGlyphs">Load resistance (kΩ)</text>
<text transform="translate(376.6 392.1) rotate(-90)" font-size="11.6" fill="#111" text-anchor="middle" textLength="63" lengthAdjust="spacingAndGlyphs">Power (µW)</text>
<path d="M427 488.02 L494.17 484.2 L523.1 482.6 L534.05 481.96 L540.02 482.28 L542.72 481.96 L545.25 481.96 L547.63 481.96 L549.89 482.28 L552.03 482.28 L568.95 483.24 L580.96 483.56 L597.88 485.03 L609.89 485.47 L619.2 486.11 L665.05 488.02" fill="none" stroke="#a673e0" stroke-width="2.9" stroke-linejoin="round"/>
<circle cx="427" cy="488.02" r="3.8" fill="url(#m_purple)"/>
<circle cx="494.17" cy="484.2" r="3.8" fill="url(#m_purple)"/>
<circle cx="523.1" cy="482.6" r="3.8" fill="url(#m_purple)"/>
<circle cx="534.05" cy="481.96" r="3.8" fill="url(#m_purple)"/>
<circle cx="540.02" cy="482.28" r="3.8" fill="url(#m_purple)"/>
<circle cx="542.72" cy="481.96" r="3.8" fill="url(#m_purple)"/>
<circle cx="545.25" cy="481.96" r="3.8" fill="url(#m_purple)"/>
<circle cx="547.63" cy="481.96" r="3.8" fill="url(#m_purple)"/>
<circle cx="549.89" cy="482.28" r="3.8" fill="url(#m_purple)"/>
<circle cx="552.03" cy="482.28" r="3.8" fill="url(#m_purple)"/>
<circle cx="568.95" cy="483.24" r="3.8" fill="url(#m_purple)"/>
<circle cx="580.96" cy="483.56" r="3.8" fill="url(#m_purple)"/>
<circle cx="597.88" cy="485.03" r="3.8" fill="url(#m_purple)"/>
<circle cx="609.89" cy="485.47" r="3.8" fill="url(#m_purple)"/>
<circle cx="619.2" cy="486.11" r="3.8" fill="url(#m_purple)"/>
<circle cx="665.05" cy="488.02" r="3.8" fill="url(#m_purple)"/>
<path d="M427 482.28 L494.17 470.16 L523.1 464.42 L534.05 462.5 L540.02 462.82 L542.72 461.55 L545.25 460.59 L547.63 459.95 L549.89 461.55 L552.03 463.78 L568.95 464.42 L580.96 466.01 L597.88 471.44 L609.89 473.35 L619.2 475.9 L665.05 482.6" fill="none" stroke="#2fa462" stroke-width="2.9" stroke-linejoin="round"/>
<circle cx="427" cy="482.28" r="3.8" fill="url(#m_green)"/>
<circle cx="494.17" cy="470.16" r="3.8" fill="url(#m_green)"/>
<circle cx="523.1" cy="464.42" r="3.8" fill="url(#m_green)"/>
<circle cx="534.05" cy="462.5" r="3.8" fill="url(#m_green)"/>
<circle cx="540.02" cy="462.82" r="3.8" fill="url(#m_green)"/>
<circle cx="542.72" cy="461.55" r="3.8" fill="url(#m_green)"/>
<circle cx="545.25" cy="460.59" r="3.8" fill="url(#m_green)"/>
<circle cx="547.63" cy="459.95" r="3.8" fill="url(#m_green)"/>
<circle cx="549.89" cy="461.55" r="3.8" fill="url(#m_green)"/>
<circle cx="552.03" cy="463.78" r="3.8" fill="url(#m_green)"/>
<circle cx="568.95" cy="464.42" r="3.8" fill="url(#m_green)"/>
<circle cx="580.96" cy="466.01" r="3.8" fill="url(#m_green)"/>
<circle cx="597.88" cy="471.44" r="3.8" fill="url(#m_green)"/>
<circle cx="609.89" cy="473.35" r="3.8" fill="url(#m_green)"/>
<circle cx="619.2" cy="475.9" r="3.8" fill="url(#m_green)"/>
<circle cx="665.05" cy="482.6" r="3.8" fill="url(#m_green)"/>
<path d="M427 475.9 L494.17 445.92 L523.1 434.43 L534.05 427.41 L540.02 427.41 L542.72 426.78 L545.25 425.5 L547.63 426.14 L549.89 428.69 L552.03 430.6 L568.95 437.62 L580.96 441.45 L597.88 447.83 L609.89 453.57 L619.2 458.68 L665.05 475.9" fill="none" stroke="#1f62e0" stroke-width="2.9" stroke-linejoin="round"/>
<circle cx="427" cy="475.9" r="3.8" fill="url(#m_blue)"/>
<circle cx="494.17" cy="445.92" r="3.8" fill="url(#m_blue)"/>
<circle cx="523.1" cy="434.43" r="3.8" fill="url(#m_blue)"/>
<circle cx="534.05" cy="427.41" r="3.8" fill="url(#m_blue)"/>
<circle cx="540.02" cy="427.41" r="3.8" fill="url(#m_blue)"/>
<circle cx="542.72" cy="426.78" r="3.8" fill="url(#m_blue)"/>
<circle cx="545.25" cy="425.5" r="3.8" fill="url(#m_blue)"/>
<circle cx="547.63" cy="426.14" r="3.8" fill="url(#m_blue)"/>
<circle cx="549.89" cy="428.69" r="3.8" fill="url(#m_blue)"/>
<circle cx="552.03" cy="430.6" r="3.8" fill="url(#m_blue)"/>
<circle cx="568.95" cy="437.62" r="3.8" fill="url(#m_blue)"/>
<circle cx="580.96" cy="441.45" r="3.8" fill="url(#m_blue)"/>
<circle cx="597.88" cy="447.83" r="3.8" fill="url(#m_blue)"/>
<circle cx="609.89" cy="453.57" r="3.8" fill="url(#m_blue)"/>
<circle cx="619.2" cy="458.68" r="3.8" fill="url(#m_blue)"/>
<circle cx="665.05" cy="475.9" r="3.8" fill="url(#m_blue)"/>
<path d="M427 468.88 L494.17 412.1 L523.1 388.5 L534.05 382.75 L540.02 382.12 L542.72 383.39 L545.25 380.84 L547.63 377.01 L549.89 382.12 L552.03 383.39 L568.95 391.69 L580.96 397.43 L597.88 414.65 L609.89 422.95 L619.2 431.88 L665.05 464.42" fill="none" stroke="#ee3a3f" stroke-width="2.9" stroke-linejoin="round"/>
<circle cx="427" cy="468.88" r="3.8" fill="url(#m_red)"/>
<circle cx="494.17" cy="412.1" r="3.8" fill="url(#m_red)"/>
<circle cx="523.1" cy="388.5" r="3.8" fill="url(#m_red)"/>
<circle cx="534.05" cy="382.75" r="3.8" fill="url(#m_red)"/>
<circle cx="540.02" cy="382.12" r="3.8" fill="url(#m_red)"/>
<circle cx="542.72" cy="383.39" r="3.8" fill="url(#m_red)"/>
<circle cx="545.25" cy="380.84" r="3.8" fill="url(#m_red)"/>
<circle cx="547.63" cy="377.01" r="3.8" fill="url(#m_red)"/>
<circle cx="549.89" cy="382.12" r="3.8" fill="url(#m_red)"/>
<circle cx="552.03" cy="383.39" r="3.8" fill="url(#m_red)"/>
<circle cx="568.95" cy="391.69" r="3.8" fill="url(#m_red)"/>
<circle cx="580.96" cy="397.43" r="3.8" fill="url(#m_red)"/>
<circle cx="597.88" cy="414.65" r="3.8" fill="url(#m_red)"/>
<circle cx="609.89" cy="422.95" r="3.8" fill="url(#m_red)"/>
<circle cx="619.2" cy="431.88" r="3.8" fill="url(#m_red)"/>
<circle cx="665.05" cy="464.42" r="3.8" fill="url(#m_red)"/>
<path d="M427 452.3 L494.17 369.36 L523.1 327.25 L534.05 317.04 L540.02 313.21 L542.72 312.57 L545.25 308.11 L547.63 303.64 L549.89 308.75 L552.03 315.13 L568.95 329.8 L580.96 347.03 L597.88 366.17 L609.89 377.65 L619.2 393.6 L665.05 447.83" fill="none" stroke="#525252" stroke-width="2.9" stroke-linejoin="round"/>
<circle cx="427" cy="452.3" r="3.8" fill="url(#m_grey)"/>
<circle cx="494.17" cy="369.36" r="3.8" fill="url(#m_grey)"/>
<circle cx="523.1" cy="327.25" r="3.8" fill="url(#m_grey)"/>
<circle cx="534.05" cy="317.04" r="3.8" fill="url(#m_grey)"/>
<circle cx="540.02" cy="313.21" r="3.8" fill="url(#m_grey)"/>
<circle cx="542.72" cy="312.57" r="3.8" fill="url(#m_grey)"/>
<circle cx="545.25" cy="308.11" r="3.8" fill="url(#m_grey)"/>
<circle cx="547.63" cy="303.64" r="3.8" fill="url(#m_grey)"/>
<circle cx="549.89" cy="308.75" r="3.8" fill="url(#m_grey)"/>
<circle cx="552.03" cy="315.13" r="3.8" fill="url(#m_grey)"/>
<circle cx="568.95" cy="329.8" r="3.8" fill="url(#m_grey)"/>
<circle cx="580.96" cy="347.03" r="3.8" fill="url(#m_grey)"/>
<circle cx="597.88" cy="366.17" r="3.8" fill="url(#m_grey)"/>
<circle cx="609.89" cy="377.65" r="3.8" fill="url(#m_grey)"/>
<circle cx="619.2" cy="393.6" r="3.8" fill="url(#m_grey)"/>
<circle cx="665.05" cy="447.83" r="3.8" fill="url(#m_grey)"/>
<line x1="416.9" y1="294.4" x2="444.9" y2="294.4" stroke="#525252" stroke-width="2.6"/>
<circle cx="430.9" cy="294.4" r="3.3" fill="url(#m_grey)"/>
<text x="448.8" y="298" font-size="10.9" fill="#111"><tspan font-style="italic">&#916;T</tspan> = 50°C</text>
<line x1="416.9" y1="309.1" x2="444.9" y2="309.1" stroke="#ee3a3f" stroke-width="2.6"/>
<circle cx="430.9" cy="309.1" r="3.3" fill="url(#m_red)"/>
<text x="448.8" y="312.7" font-size="10.9" fill="#111"><tspan font-style="italic">&#916;T</tspan> = 40°C</text>
<line x1="416.9" y1="323.8" x2="444.9" y2="323.8" stroke="#1f62e0" stroke-width="2.6"/>
<circle cx="430.9" cy="323.8" r="3.3" fill="url(#m_blue)"/>
<text x="448.8" y="327.4" font-size="10.9" fill="#111"><tspan font-style="italic">&#916;T</tspan> = 30°C</text>
<line x1="416.9" y1="338.5" x2="444.9" y2="338.5" stroke="#2fa462" stroke-width="2.6"/>
<circle cx="430.9" cy="338.5" r="3.3" fill="url(#m_green)"/>
<text x="448.8" y="342.1" font-size="10.9" fill="#111"><tspan font-style="italic">&#916;T</tspan> = 20°C</text>
<line x1="416.9" y1="353.2" x2="444.9" y2="353.2" stroke="#a673e0" stroke-width="2.6"/>
<circle cx="430.9" cy="353.2" r="3.3" fill="url(#m_purple)"/>
<text x="448.8" y="356.8" font-size="10.9" fill="#111"><tspan font-style="italic">&#916;T</tspan> = 10°C</text>
</svg>
</body></html>
